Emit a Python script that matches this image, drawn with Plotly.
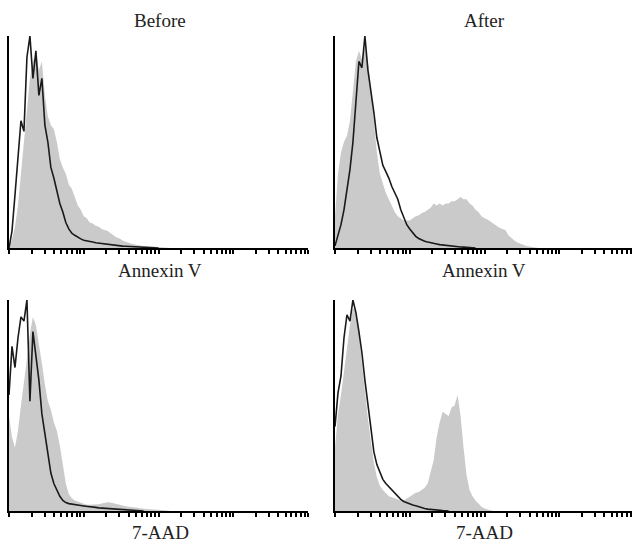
import numpy as np
import plotly.graph_objects as go

# Histogram bins on a log10 channel scale (bin positions, step 0.04 decade)
BIN_STEP = 0.04

# Panel: Before / Annexin V
before_annexin_stained = [1, 4, 10, 20, 35, 50, 62, 80, 88, 92, 84, 88, 72, 62, 58, 56, 50, 42, 38, 35,
                          30, 28, 24, 20, 18, 15, 14, 12, 11.5, 10.5, 10, 9, 8.5, 8, 7, 6, 5, 4.5, 3.5, 3,
                          2.4, 2, 1.6, 1.3, 1.1, 1, 0.9, 0.8, 0.8, 0.7, 0.6, 0.5, 0.4, 0.3, 0]
before_annexin_control = [0, 8, 25, 45, 60, 55, 90, 100, 80, 93, 72, 80, 58, 50, 38, 33, 27, 21, 17, 12,
                          9, 7, 6, 5, 4.3, 3.7, 3.3, 3, 2.8, 2.5, 2.3, 2, 1.8, 1.6, 1.4, 1.3, 1.1, 1, 0.9, 0.8,
                          0.7, 0.6, 0.5, 0.5, 0.4, 0.3, 0.3, 0.2, 0.2, 0.1, 0]

# Panel: After / Annexin V
after_annexin_stained = [15, 35, 45, 50, 53, 60, 74, 88, 93, 89, 95, 88, 75, 60, 45, 35, 30, 26, 23, 20,
                         17, 15, 14, 13, 13, 13, 14, 15, 15.5, 16.5, 17, 18, 19, 21, 20, 21, 20, 21, 21, 22,
                         22, 23, 24, 23, 23, 21, 20, 18, 17, 15, 14, 13.5, 12.5, 11.5, 10.5, 9.5, 9, 8.5, 6, 4.5,
                         3.5, 2.6, 2, 1.4, 1, 0.7, 0.4, 0.2, 0]
after_annexin_control = [1, 6, 11, 18, 27, 37, 50, 70, 88, 85, 100, 84, 75, 64, 52, 45, 39, 36, 33, 29,
                         26, 23, 18, 14, 11, 9, 7, 5.5, 4.5, 3.8, 3.2, 2.8, 2.4, 2.1, 1.9, 1.6, 1.4, 1.2, 1, 0.9,
                         0.8, 0.6, 0.5, 0.4, 0.3, 0.2, 0.1, 0]

# Panel: Before / 7-AAD
before_7aad_stained = [45, 35, 30, 38, 50, 60, 72, 84, 92, 88, 80, 70, 60, 52, 48, 42, 38, 31, 22, 13,
                       8, 6, 5, 4.5, 3.8, 3.2, 3, 3, 3, 3, 3.2, 3.6, 4, 4.2, 4, 3.6, 3.2, 2.8, 2.5, 2.2,
                       2, 1.8, 1.5, 1.2, 1.1, 1, 0.9, 0.8, 0.8, 0.7, 0.6, 0.5, 0.3, 0.2, 0]
before_7aad_control = [55, 78, 68, 82, 92, 90, 100, 52, 85, 74, 62, 46, 37, 28, 18, 13, 10, 7, 5, 4,
                       3.5, 3.2, 3, 2.8, 2.6, 2.4, 2.3, 2.1, 1.9, 1.7, 1.5, 1.4, 1.2, 1.1, 1, 0.9, 0.8, 0.7, 0.6, 0.5,
                       0.5, 0.4, 0.3, 0.2, 0.1, 0]

# Panel: After / 7-AAD
after_7aad_stained = [30, 46, 55, 65, 77, 88, 96, 95, 85, 70, 56, 44, 33, 23, 16, 12, 10, 8.5, 7, 6.5,
                      6, 5.5, 5, 5, 6, 7, 8, 8.6, 9, 10, 11, 13, 18, 24, 35, 42, 47, 46, 45, 49,
                      50, 55, 45, 30, 17, 10, 7, 5, 3.5, 2, 1.2, 0.6, 0.3, 0]
after_7aad_control = [40, 56, 64, 82, 93, 90, 100, 94, 85, 75, 62, 50, 39, 28, 22, 18, 15, 13, 11.5, 9.5,
                      8, 6.5, 5.5, 4.5, 3.8, 3.2, 2.8, 2.5, 2, 1.6, 1.2, 0.9, 0.7, 0.5, 0.4, 0.3, 0.2, 0.1, 0]

panel_titles = ["Before", "After"]
row_labels = ["Annexin V", "7-AAD"]

panels = [
    (before_annexin_stained, before_annexin_control),
    (after_annexin_stained, after_annexin_control),
    (before_7aad_stained, before_7aad_control),
    (after_7aad_stained, after_7aad_control),
]

W, H = 632, 543
FILL = "#cacaca"
LINE = "#1a1a1a"
FONT = "Liberation Serif"

# pixel geometry of panels: (x0, x1, y_top, y_bottom, xmax_log)
geom = [
    (9, 308, 36, 248, 4.0),
    (335, 632, 36, 248, (632 - 335) / 74.75),
    (9, 308, 300, 511, 4.0),
    (335, 632, 300, 511, (632 - 335) / 74.75),
]

tickvals = [k * 10 ** d for d in range(4) for k in range(1, 10)] + [10000]

fig = go.Figure()
layout = {}
for i, ((stained, control), (x0, x1, yt, yb, xmax)) in enumerate(zip(panels, geom)):
    n = i + 1
    xa = "x" if n == 1 else f"x{n}"
    ya = "y" if n == 1 else f"y{n}"
    xs = [10 ** (BIN_STEP * j) for j in range(len(stained))]
    xc = [10 ** (BIN_STEP * j) for j in range(len(control))]
    fig.add_trace(go.Scatter(x=xs, y=stained, mode="lines", line=dict(width=0, color=FILL),
                             fill="tozeroy", fillcolor=FILL, xaxis=xa, yaxis=ya, showlegend=False,
                             hoverinfo="skip"))
    fig.add_trace(go.Scatter(x=xc, y=control, mode="lines", line=dict(width=1.6, color=LINE),
                             xaxis=xa, yaxis=ya, showlegend=False, hoverinfo="skip"))
    layout["xaxis" if n == 1 else f"xaxis{n}"] = dict(
        type="log", range=[0, xmax], domain=[x0 / W, x1 / W], anchor=ya,
        showline=True, linecolor="black", linewidth=2, showgrid=False, zeroline=False,
        ticks="outside", ticklen=4, tickwidth=1.5, tickcolor="black",
        tickvals=tickvals, showticklabels=False, fixedrange=True)
    layout["yaxis" if n == 1 else f"yaxis{n}"] = dict(
        range=[0, 100], domain=[1 - yb / H, 1 - yt / H], anchor=xa,
        showline=True, linecolor="black", linewidth=2, showgrid=False, zeroline=False,
        ticks="", showticklabels=False, fixedrange=True)

annotations = []
centers = [160, 484]
for c, t in zip(centers, panel_titles):
    annotations.append(dict(text=t, x=c / W, y=1 - 20 / H, xref="paper", yref="paper",
                            showarrow=False, xanchor="center", yanchor="middle",
                            font=dict(family=FONT, size=19, color="#222")))
for c in centers:
    annotations.append(dict(text=row_labels[0], x=c / W, y=1 - 270 / H, xref="paper", yref="paper",
                            showarrow=False, xanchor="center", yanchor="middle",
                            font=dict(family=FONT, size=19, color="#222")))
    annotations.append(dict(text=row_labels[1], x=c / W, y=1 - 532 / H, xref="paper", yref="paper",
                            showarrow=False, xanchor="center", yanchor="middle",
                            font=dict(family=FONT, size=19, color="#222")))

fig.update_layout(width=W, height=H, margin=dict(l=0, r=0, t=0, b=0),
                  paper_bgcolor="white", plot_bgcolor="white",
                  annotations=annotations, **layout)

fig.write_html("out.html", config={"displayModeBar": False},
               post_script="document.body.style.margin='0';document.body.style.overflow='hidden';")
